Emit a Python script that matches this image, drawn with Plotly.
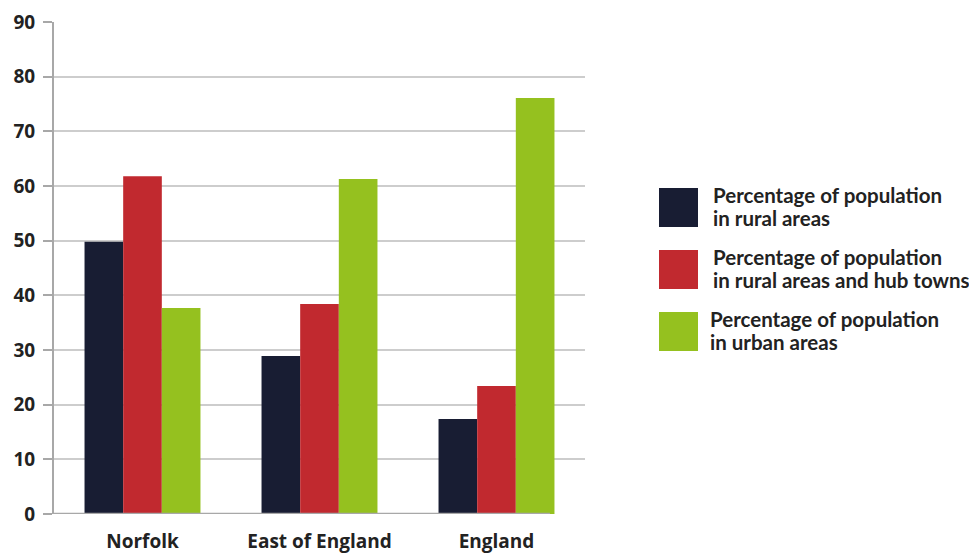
import plotly.graph_objects as go

# Share of population by settlement type
regions = ["Norfolk", "East of England", "England"]
series_names = [
    "Percentage of population<br>in rural areas",
    "Percentage of population<br>in rural areas and hub towns",
    "Percentage of population<br>in urban areas",
]
rural = [49.8, 28.9, 17.4]
rural_hub = [61.8, 38.4, 23.4]
urban = [37.7, 61.3, 76.1]
y_ticks = [0, 10, 20, 30, 40, 50, 60, 70, 80, 90]

colors = ["#181D33", "#C1292F", "#95C11F"]
series_values = [rural, rural_hub, urban]

FONT = "Open Sans"
LEGEND_FONT = "Lato"
TEXT = "#222222"

fig = go.Figure()
for name, vals, col in zip(series_names, series_values, colors):
    fig.add_trace(go.Bar(
        x=regions, y=vals, name=name,
        marker=dict(color=col, line=dict(width=0)),
        showlegend=False,
    ))

fig.update_layout(
    width=969, height=553,
    margin=dict(l=54, r=384, t=22, b=39, autoexpand=False),
    paper_bgcolor="white", plot_bgcolor="white",
    barmode="group", bargap=0.345, bargroupgap=0,
    font=dict(family=FONT, color=TEXT),
)
fig.update_yaxes(
    range=[0, 90], tickvals=y_ticks,
    showgrid=True, gridcolor="#CDCDCD", gridwidth=1.5,
    showline=True, linecolor="#A8A8A8", linewidth=2,
    ticks="outside", ticklen=9, tickcolor="#A8A8A8", tickwidth=1.5,
    tickfont=dict(family=FONT, size=19, color=TEXT, weight="bold"),
    ticklabelstandoff=4, automargin=False,
    zeroline=False, fixedrange=True,
)
fig.update_xaxes(
    range=[-0.5, 2.5],
    showline=False, showgrid=False, ticks="",
    tickfont=dict(family=FONT, size=19, color=TEXT, weight="bold"),
    ticklabelstandoff=14, automargin=False,
)
# baseline under the bars
fig.add_shape(type="line", xref="paper", yref="y",
              x0=0, x1=0.934, y0=0, y1=0,
              line=dict(color="#A8A8A8", width=2.5), layer="above")

# legend drawn as swatches with two-line labels (pixel layout mapped to paper)
def px_x(px):
    return (px - 54) / 531

def px_y(py):
    return (514 - py) / 492

top = 188
step = 62
for i, (name, col) in enumerate(zip(series_names, colors)):
    y0 = top + i * step
    fig.add_shape(type="rect", xref="paper", yref="paper",
                  x0=px_x(659), x1=px_x(698),
                  y0=px_y(y0 + 39), y1=px_y(y0),
                  fillcolor=col, line=dict(width=0))
    text_x = px_x(711 if i < 2 else 708)
    for j, line in enumerate(name.split("<br>")):
        fig.add_annotation(
            xref="paper", yref="paper",
            x=text_x, y=px_y(y0 + 7 + 23 * j),
            xanchor="left", yanchor="middle", align="left",
            text=line, showarrow=False,
            font=dict(family=LEGEND_FONT, size=20.5, color=TEXT, weight="bold"),
        )

fig.write_html("out.html")
